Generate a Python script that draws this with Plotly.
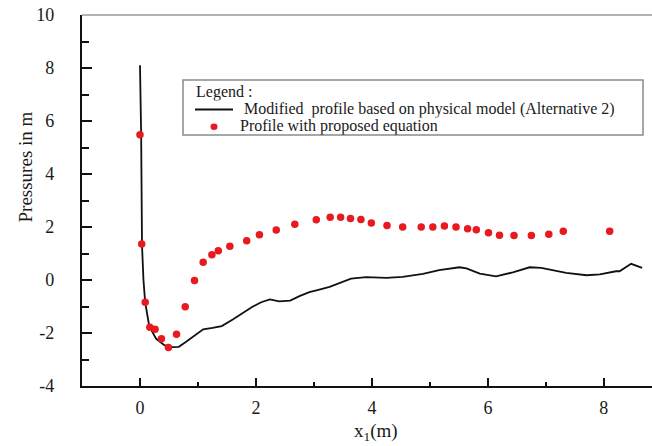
import plotly.graph_objects as go

# Black line: modified profile based on physical model
line_x = [0.0, 0.02, 0.035, 0.06, 0.09, 0.16, 0.28, 0.42, 0.56, 0.67, 0.79, 0.94, 1.09, 1.25, 1.41,
          1.60, 1.80, 1.94, 2.09, 2.24, 2.40, 2.59, 2.75, 2.92, 3.06, 3.27, 3.64, 3.90, 4.25, 4.53,
          4.88, 5.16, 5.51, 5.63, 5.86, 6.14, 6.43, 6.72, 6.92, 7.35, 7.70, 7.93, 8.21, 8.27, 8.47, 8.66]
line_y = [8.1, 5.5, 1.3, 0.0, -0.85, -1.74, -2.22, -2.46, -2.53, -2.52, -2.34, -2.09, -1.86, -1.81, -1.74,
          -1.49, -1.21, -1.01, -0.84, -0.73, -0.81, -0.78, -0.61, -0.46, -0.38, -0.26, 0.05, 0.11, 0.08, 0.12,
          0.23, 0.37, 0.48, 0.44, 0.24, 0.14, 0.29, 0.48, 0.46, 0.27, 0.18, 0.21, 0.33, 0.33, 0.61, 0.46]

# Red dots: profile with proposed equation
dot_x = [0.0, 0.03, 0.09, 0.17, 0.26, 0.37, 0.49, 0.63, 0.78, 0.94, 1.09, 1.24, 1.35, 1.55, 1.84,
         2.06, 2.35, 2.67, 3.04, 3.28, 3.46, 3.63, 3.81, 3.99, 4.26, 4.53, 4.85, 5.05, 5.25, 5.45,
         5.65, 5.80, 6.01, 6.20, 6.45, 6.75, 7.05, 7.30, 8.10]
dot_y = [5.48, 1.36, -0.84, -1.78, -1.86, -2.22, -2.55, -2.05, -1.01, -0.02, 0.67, 0.95, 1.10, 1.27, 1.48,
         1.71, 1.89, 2.10, 2.27, 2.37, 2.37, 2.32, 2.28, 2.15, 2.06, 2.00, 2.00, 2.00, 2.04, 2.00,
         1.93, 1.90, 1.78, 1.69, 1.68, 1.68, 1.73, 1.84, 1.84]

x_ticks = [0, 2, 4, 6, 8]
y_ticks = [-4, -2, 0, 2, 4, 6, 8, 10]

line_name = "Modified\u00a0 profile based on physical model (Alternative 2)"
dot_name = "Profile with proposed equation"
legend_title = "Legend :"

FONT = "Liberation Serif, Times New Roman, serif"
LINE_COLOR = "#111111"
DOT_COLOR = "#e8191f"
TXT = "#1a1a1a"

# plot area geometry (pixels)
L, R, T, B = 82, 0, 15, 60
W, H = 652, 446
PW, PH = W - L - R, H - T - B


def px(xp):
    return (xp - L) / PW


def py(yp):
    return (H - B - yp) / PH


fig = go.Figure()
fig.add_trace(go.Scatter(
    x=line_x, y=line_y, mode="lines",
    line=dict(color=LINE_COLOR, width=1.8),
    name=line_name, showlegend=False,
))
fig.add_trace(go.Scatter(
    x=dot_x, y=dot_y, mode="markers",
    marker=dict(color=DOT_COLOR, size=7.5, line=dict(width=0)),
    name=dot_name, showlegend=False,
))

shapes = [
    # top frame line
    dict(type="line", xref="paper", yref="paper", x0=0, x1=1, y0=1, y1=1,
         line=dict(color="#9a9a9a", width=1.5)),
    # legend box
    dict(type="rect", xref="paper", yref="paper", x0=px(183), x1=px(643), y0=py(135), y1=py(80),
         line=dict(color="#8a8a8a", width=1.5), fillcolor="white", layer="above"),
    # legend key: line
    dict(type="line", xref="paper", yref="paper", x0=px(195), x1=px(233), y0=py(109.5), y1=py(109.5),
         line=dict(color=LINE_COLOR, width=1.8), layer="above"),
    # legend key: dot
    dict(type="circle", xref="paper", yref="paper", x0=px(210.5), x1=px(217.5), y0=py(130), y1=py(123.5),
         line=dict(width=0), fillcolor=DOT_COLOR, layer="above"),
]

LEG_SIZE = 16
ROW_H = 16.5
annotations = [
    dict(text="Pressures in m", xref="paper", yref="paper",
         x=px(25), y=py(167.5), xanchor="center", yanchor="middle",
         textangle=-90, showarrow=False,
         font=dict(family=FONT, size=19, color=TXT)),
    dict(text="x<sub>1</sub>(m)", xref="paper", yref="paper",
         x=px(376), y=py(432), xanchor="center", yanchor="middle",
         showarrow=False, font=dict(family=FONT, size=19, color=TXT)),
    dict(text=legend_title, xref="paper", yref="paper",
         x=px(194), y=py(92.5), xanchor="left", yanchor="middle", height=ROW_H,
         showarrow=False, font=dict(family=FONT, size=LEG_SIZE, color=TXT)),
    dict(text=line_name, xref="paper", yref="paper",
         x=px(242), y=py(109.5), xanchor="left", yanchor="middle", height=ROW_H,
         showarrow=False, font=dict(family=FONT, size=LEG_SIZE, color=TXT)),
    dict(text=dot_name, xref="paper", yref="paper",
         x=px(238), y=py(126.5), xanchor="left", yanchor="middle", height=ROW_H,
         showarrow=False, font=dict(family=FONT, size=LEG_SIZE, color=TXT)),
]

fig.update_layout(
    width=W, height=H,
    margin=dict(l=L, r=R, t=T, b=B, pad=0),
    paper_bgcolor="white", plot_bgcolor="white",
    font=dict(family=FONT, color=TXT),
    showlegend=False,
    xaxis=dict(
        range=[-1, 8.83], tickvals=x_ticks, ticktext=[str(v) for v in x_ticks],
        showgrid=False, zeroline=False, automargin=False,
        showline=True, linecolor=LINE_COLOR, linewidth=2.2,
        ticks="inside", ticklen=8, tickwidth=1.6, tickcolor=LINE_COLOR,
        minor=dict(dtick=1, tick0=0, ticks="inside", ticklen=4, tickwidth=1.6, tickcolor=LINE_COLOR),
        tickfont=dict(family=FONT, size=18, color=TXT),
        ticklabelstandoff=4,
    ),
    yaxis=dict(
        range=[-4, 10], tickvals=y_ticks, ticktext=[str(v) for v in y_ticks],
        showgrid=False, zeroline=False, automargin=False,
        showline=True, linecolor=LINE_COLOR, linewidth=2.2,
        ticks="inside", ticklen=10, tickwidth=1.6, tickcolor=LINE_COLOR,
        minor=dict(dtick=1, tick0=0, ticks="inside", ticklen=7, tickwidth=1.6, tickcolor=LINE_COLOR),
        tickfont=dict(family=FONT, size=18, color=TXT),
        ticklabelstandoff=22,
    ),
    shapes=shapes,
    annotations=annotations,
)

fig.write_html(
    "out.html",
    config={"displayModeBar": False},
    post_script="document.body.style.margin='0';document.body.style.padding='0';"
                "document.body.style.overflow='hidden';",
)
